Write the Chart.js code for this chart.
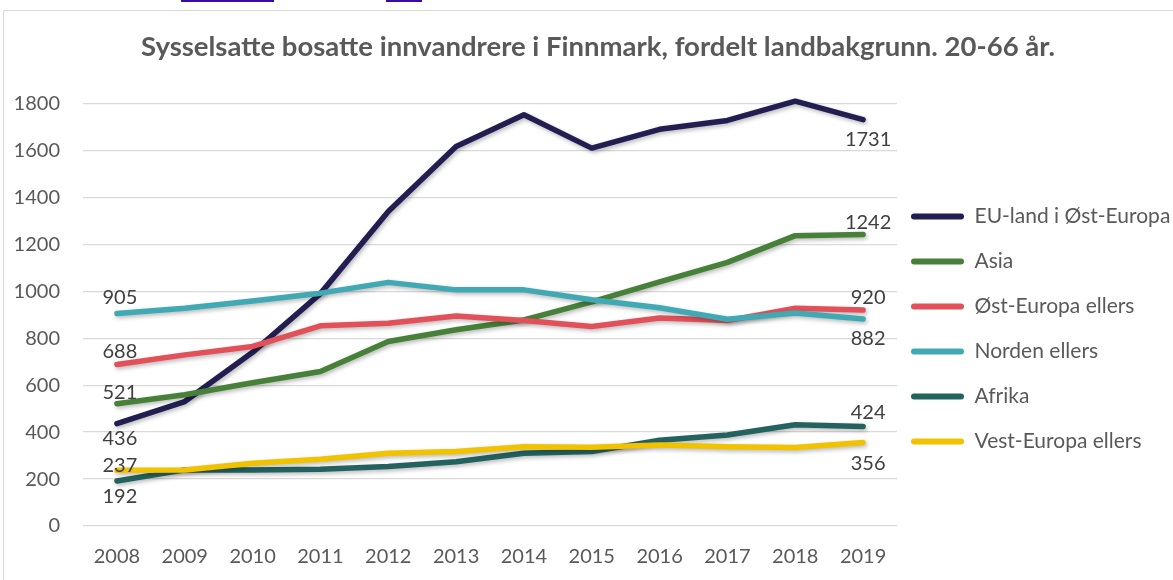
<!DOCTYPE html>
<html><head><meta charset="utf-8">
<script src="https://cdn.jsdelivr.net/npm/chart.js@4.4.1/dist/chart.umd.min.js"></script>
<style>
html,body{margin:0;padding:0;background:#fff;overflow:hidden;}
#wrap{position:relative;width:1173px;height:580px;overflow:hidden;}
#frame{position:absolute;left:3px;top:10px;width:1200px;height:620px;border:1px solid #d9d9d9;box-sizing:border-box;}
.lnk{position:absolute;top:0;height:2px;background:#3a0ca3;}
canvas{position:absolute;left:0;top:0;}
</style></head><body>
<div id="wrap">
<div class="lnk" style="left:181px;width:93px"></div>
<div class="lnk" style="left:386px;width:36px"></div>
<div id="frame"></div>
<canvas id="c" width="1173" height="580"></canvas>
</div>
<script>
// ---- data ----
const years = ['2008','2009','2010','2011','2012','2013','2014','2015','2016','2017','2018','2019'];
const euOstEuropa      = [436, 530, 740, 990, 1340, 1617, 1752, 1610, 1690, 1728, 1810, 1731];
const asia             = [521, 559, 610, 658, 786, 836, 878, 955, 1040, 1123, 1237, 1242];
const ostEuropaEllers  = [688, 729, 765, 853, 864, 895, 875, 850, 886, 875, 928, 920];
const nordenEllers     = [905, 928, 959, 992, 1038, 1006, 1006, 964, 930, 881, 907, 882];
const afrika           = [192, 239, 239, 242, 253, 274, 310, 317, 365, 388, 431, 424];
const vestEuropaEllers = [237, 239, 267, 284, 310, 317, 338, 335, 345, 338, 334, 356];
const seriesNames = ['EU-land i Øst-Europa','Asia','Øst-Europa ellers','Norden ellers','Afrika','Vest-Europa ellers'];
const yTicks = [0, 200, 400, 600, 800, 1000, 1200, 1400, 1600, 1800];
const titleText = 'Sysselsatte bosatte innvandrere i Finnmark, fordelt landbakgrunn. 20-66 år.';

// ---- styles ----
const colors = ['#221e51','#478039','#e2505a','#40a9b3','#23625f','#f0c200'];
// label offsets (first point, last point): vertical offset in px
const labelDy = [[15,20],[-11,-12],[-13,-13],[-16,20],[16,-14],[-5,21]];
const FONT = 'Lato';
const TXT = '#595959';

const allSeries = [euOstEuropa, asia, ostEuropaEllers, nordenEllers, afrika, vestEuropaEllers];

const datasets = allSeries.map((d, i) => ({
  label: seriesNames[i],
  data: d,
  borderColor: colors[i],
  backgroundColor: colors[i],
  borderWidth: 5.5,
  pointRadius: 0,
  pointHoverRadius: 0,
  tension: 0,
  borderCapStyle: 'round',
  borderJoinStyle: 'round',
  fill: false,
  clip: false,
  order: -i
}));

const shadowPlugin = {
  id: 'shadow',
  beforeDatasetDraw(chart) {
    const ctx = chart.ctx;
    ctx.save();
    ctx.shadowColor = 'rgba(0,0,0,0.28)';
    ctx.shadowBlur = 4;
    ctx.shadowOffsetX = 1.5;
    ctx.shadowOffsetY = 2;
  },
  afterDatasetDraw(chart) {
    chart.ctx.restore();
  }
};

const labelPlugin = {
  id: 'endLabels',
  afterDatasetsDraw(chart) {
    const ctx = chart.ctx;
    ctx.save();
    ctx.font = '20px ' + FONT;
    ctx.fillStyle = '#404040';
    ctx.textAlign = 'center';
    ctx.textBaseline = 'middle';
    chart.data.datasets.forEach((ds, i) => {
      const meta = chart.getDatasetMeta(i);
      const n = ds.data.length;
      [[0, 0], [n - 1, 1]].forEach(([idx, k]) => {
        const pt = meta.data[idx];
        const dx = k === 0 ? 3 : 5;
        ctx.fillText(String(ds.data[idx]), pt.x + dx, pt.y + labelDy[i][k]);
      });
    });
    ctx.restore();
  }
};

const LEG_PAD = 24;
const placePlugin = {
  id: 'place',
  afterLayout(chart) {
    const lg = chart.legend;
    if (lg) {
      const shift = 911 - (lg.left + LEG_PAD);
      lg.left += shift;
      lg.right = chart.width + 200;
      const h = lg.bottom - lg.top;
      lg.top = 182; lg.bottom = 182 + h;
    }
    const tb = chart.titleBlock;
    if (tb) { const c = (tb.left + tb.right) / 2; const s = 598 - c; tb.left += s; tb.right += s; }
  }
};

new Chart(document.getElementById('c'), {
  type: 'line',
  data: { labels: years, datasets },
  options: {
    responsive: false,
    animation: false,
    devicePixelRatio: 1,
    layout: { padding: { left: 0, right: 0, top: 0, bottom: 0 } },
    plugins: {
      title: {
        display: true,
        text: titleText,
        color: TXT,
        font: { family: FONT, size: 27.5, weight: 'bold' },
        padding: { top: 30.5, bottom: 40 }
      },
      legend: {
        position: 'right',
        align: 'start',
        maxWidth: 276,
        labels: {
          color: TXT,
          font: { family: FONT, size: 21 },
          boxWidth: 53,
          boxHeight: 6,
          padding: LEG_PAD,
          useBorderRadius: true,
          borderRadius: 3,
          sort: (a, b) => a.datasetIndex - b.datasetIndex,
          generateLabels: (chart) => chart.data.datasets.map((ds, i) => ({
            text: ds.label, fillStyle: ds.borderColor, strokeStyle: ds.borderColor,
            lineWidth: 0, hidden: false, datasetIndex: i, fontColor: TXT, borderRadius: 3
          }))
        }
      },
      tooltip: { enabled: false }
    },
    scales: {
      x: {
        offset: true,
        grid: { display: false, drawTicks: false, offset: true },
        border: { display: false },
        ticks: { color: TXT, font: { family: FONT, size: 20 }, padding: 19, maxRotation: 0 },
        afterFit(s) { s.height = 54; }
      },
      y: {
        min: 0, max: 1800,
        afterBuildTicks(s) { s.ticks = yTicks.map(v => ({ value: v })); },
        grid: { color: '#d9d9d9', lineWidth: 1.3, drawTicks: false },
        border: { display: false },
        ticks: { color: TXT, font: { family: FONT, size: 20 }, padding: 23, callback: (v) => String(v) },
        afterFit(s) { s.width = 83; }
      }
    }
  },
  plugins: [shadowPlugin, labelPlugin, placePlugin]
});
</script>
</body></html>
